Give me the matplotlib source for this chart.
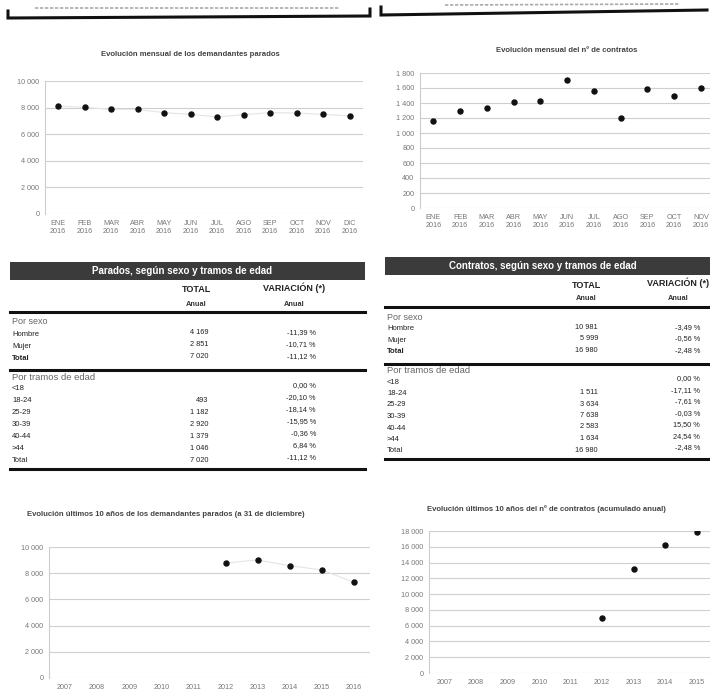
"""Informe de paro y contratos 2016: cuatro evoluciones y dos tablas (recreación del escaneo)."""

import matplotlib
matplotlib.use("Agg")
import matplotlib.pyplot as plt
import numpy as np

plt.rcParams["font.family"] = ["Liberation Sans", "DejaVu Sans"]

W, H = 710, 692

# --- datos -----------------------------------------------------------------
meses = ["ENE", "FEB", "MAR", "ABR", "MAY", "JUN", "JUL", "AGO", "SEP", "OCT", "NOV", "DIC"]
anio_mes = "2016"
parados_mes = [8115, 8015, 7870, 7860, 7620, 7490, 7295, 7470, 7620, 7590, 7490, 7370]
contratos_mes = [1156, 1298, 1338, 1409, 1427, 1707, 1564, 1196, 1587, 1489, 1600, 1210]

anios = ["2007", "2008", "2009", "2010", "2011", "2012", "2013", "2014", "2015", "2016"]
parados_anio = [np.nan, np.nan, np.nan, np.nan, np.nan, 8780, 9010, 8575, 8245, 7300]
contratos_anio = [np.nan, np.nan, np.nan, np.nan, np.nan, 6980, 13190, 16195, 17885, 16980]

filas_sexo = ["Hombre", "Mujer", "Total"]
filas_edad = ["<18", "18-24", "25-29", "30-39", "40-44", ">44", "Total"]

parados_sexo_total = ["4 169", "2 851", "7 020"]
parados_sexo_var = ["-11,39 %", "-10,71 %", "-11,12 %"]
parados_edad_total = ["", "493", "1 182", "2 920", "1 379", "1 046", "7 020"]
parados_edad_var = ["0,00 %", "-20,10 %", "-18,14 %", "-15,95 %", "-0,36 %", "6,84 %", "-11,12 %"]

contratos_sexo_total = ["10 981", "5 999", "16 980"]
contratos_sexo_var = ["-3,49 %", "-0,56 %", "-2,48 %"]
contratos_edad_total = ["", "1 511", "3 634", "7 638", "2 583", "1 634", "16 980"]
contratos_edad_var = ["0,00 %", "-17,11 %", "-7,61 %", "-0,03 %", "15,50 %", "24,54 %", "-2,48 %"]


def miles(v):
    return f"{int(v):,}".replace(",", " ")


def px_axes(fig, left, top, right, bottom):
    return fig.add_axes([left / W, 1 - bottom / H, (right - left) / W, (bottom - top) / H])


def serie(fig, box, etiquetas, valores, ymax, paso, titulo, titulo_xy, linea=True):
    ax = px_axes(fig, *box)
    x = np.arange(len(valores))
    if linea:
        ax.plot(x, valores, "-", color="#e4e4e4", lw=0.8, zorder=2)
    ax.plot(x, valores, "o", ms=3.6, color="#111111", zorder=3)
    ax.set_xlim(-0.5, len(valores) - 0.5)
    ax.set_ylim(0, ymax)
    ticks = np.arange(0, ymax + 1, paso)
    ax.set_yticks(ticks)
    ax.set_yticklabels([miles(t) for t in ticks])
    ax.set_xticks(x)
    ax.set_xticklabels(etiquetas)
    # the scan is cropped at the right edge: labels past it are not shown
    left, _, right, _ = box
    paso_px = (right - left) / len(valores)
    for i, lab in enumerate(ax.get_xticklabels()):
        if left + (i + 0.5) * paso_px > W - 6:
            lab.set_visible(False)
    ax.grid(axis="y", color="#cfcfcf", lw=0.8)
    ax.set_axisbelow(True)
    for s in ["top", "right", "bottom"]:
        ax.spines[s].set_visible(False)
    ax.spines["left"].set_color("#cccccc")
    ax.tick_params(axis="both", length=0, labelsize=5.2, labelcolor="#777777", pad=4)
    ax.patch.set_alpha(0)
    fig.text(titulo_xy[0] / W, 1 - titulo_xy[1] / H, titulo, fontsize=5.6,
             fontweight="bold", color="#444444", ha=titulo_xy[2], va="center")
    return ax


def tabla(ov, x0, x1, ytop, titulo, col_total, col_var, tot_sexo, var_sexo, tot_edad, var_edad, dy):
    ov.add_patch(plt.Rectangle((x0, ytop), x1 - x0, 18, color="#3b3b3b", lw=0))
    ov.text((x0 + x1) / 2 - 5, ytop + 9, titulo, color="white", fontsize=7,
            fontweight="bold", ha="center", va="center")
    y = ytop + 28
    ov.text(col_total - 12, y, "TOTAL", fontsize=6.5, fontweight="bold", ha="center", va="center", color="#222")
    ov.text(col_var - 22, y - 2, "VARIACIÓN (*)", fontsize=6.5, fontweight="bold", ha="center", va="center", color="#222")
    ov.text(col_total - 12, y + 14, "Anual", fontsize=5.3, fontweight="bold", ha="center", va="center", color="#333")
    ov.text(col_var - 22, y + 14, "Anual", fontsize=5.3, fontweight="bold", ha="center", va="center", color="#333")
    y += 22
    ov.plot([x0, x1], [y, y], color="#111", lw=2.2)
    y += 10
    ov.text(x0 + 2, y, "Por sexo", fontsize=6.5, color="#666", va="center")
    for i, nombre in enumerate(filas_sexo):
        yy = y + (i + 1) * dy
        ov.text(x0 + 2, yy, nombre, fontsize=5.5, color="#222", va="center",
                fontweight="bold" if nombre == "Total" else "normal")
        ov.text(col_total, yy - 1, tot_sexo[i], fontsize=5.3, color="#222", va="center", ha="right")
        ov.text(col_var, yy - 1, var_sexo[i], fontsize=5.3, color="#222", va="center", ha="right")
    y += 3 * dy + 12
    ov.plot([x0, x1], [y, y], color="#111", lw=2.2)
    y += 7
    ov.text(x0 + 2, y, "Por tramos de edad", fontsize=6.8, color="#666", va="center")
    for i, nombre in enumerate(filas_edad):
        yy = y + (i + 1) * dy
        ov.text(x0 + 2, yy, nombre, fontsize=5.5, color="#222", va="center")
        ov.text(col_total, yy - 1, tot_edad[i], fontsize=5.3, color="#222", va="center", ha="right")
        ov.text(col_var, yy - 3, var_edad[i], fontsize=5.3, color="#222", va="center", ha="right")
    y += 7 * dy + 8
    ov.plot([x0, x1], [y, y], color="#111", lw=2.2)


def main():
    fig = plt.figure(figsize=(W / 100, H / 100), dpi=100)
    fig.patch.set_facecolor("white")

    ov = fig.add_axes([0, 0, 1, 1])
    ov.set_xlim(0, W)
    ov.set_ylim(H, 0)
    ov.axis("off")

    # corchetes de la cabecera
    ov.plot([8, 8, 370, 370], [11, 18, 16, 9], color="#111", lw=2.2, solid_joinstyle="miter")
    ov.plot([381, 381, 707], [7, 15, 10], color="#111", lw=2.2, solid_joinstyle="miter")
    ov.plot([35, 340], [8, 8], color="#aaaaaa", lw=1.2, ls=(0, (2, 1)))
    ov.plot([445, 680], [5, 4], color="#aaaaaa", lw=1.2, ls=(0, (2, 1)))

    et_mes = [f"{m}\n{anio_mes}" for m in meses]
    serie(fig, (45, 81, 363, 214), et_mes, parados_mes, 10000, 2000,
          "Evolución mensual de los demandantes parados", (190, 55, "center"))
    serie(fig, (420, 73, 741, 208), et_mes, contratos_mes, 1800, 200,
          "Evolución mensual del nº de contratos", (567, 50, "center"), linea=False)
    serie(fig, (49, 547, 370, 678), anios, parados_anio, 10000, 2000,
          "Evolución últimos 10 años de los demandantes parados (a 31 de diciembre)", (27, 514, "left"))
    serie(fig, (429, 531, 744, 673), anios, contratos_anio, 18000, 2000,
          "Evolución últimos 10 años del nº de contratos (acumulado anual)", (427, 509, "left"),
          linea=False)

    tabla(ov, 10, 365, 262, "Parados, según sexo y tramos de edad", 208, 316,
          parados_sexo_total, parados_sexo_var, parados_edad_total, parados_edad_var, 12)
    tabla(ov, 385, 710, 257, "Contratos, según sexo y tramos de edad", 598, 700,
          contratos_sexo_total, contratos_sexo_var, contratos_edad_total, contratos_edad_var, 11.5)

    fig.savefig("out.png", dpi=100)


if __name__ == "__main__":
    main()
